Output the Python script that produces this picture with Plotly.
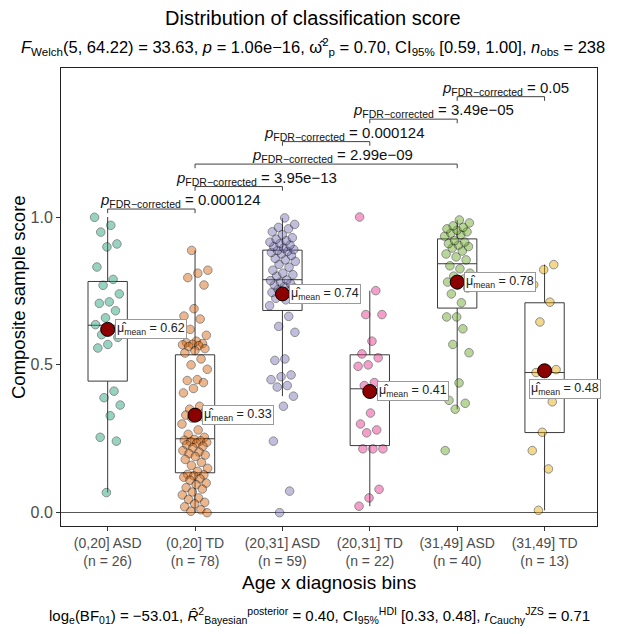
import plotly.graph_objects as go

# ---------------- data ----------------
categories = ["(0,20] ASD", "(0,20] TD", "(20,31] ASD", "(20,31] TD", "(31,49] ASD", "(31,49] TD"]
n_obs = [26, 78, 59, 22, 40, 13]

scores_asd_0_20 = [0.999, 0.972, 0.949, 0.909, 0.899, 0.831, 0.789, 0.769, 0.740, 0.713, 0.708, 0.683, 0.659,
                   0.636, 0.619, 0.602, 0.593, 0.569, 0.557, 0.411, 0.389, 0.364, 0.328, 0.255, 0.242, 0.068]
scores_td_0_20 = [0.887, 0.82, 0.81, 0.795, 0.77, 0.69, 0.665, 0.655, 0.62, 0.60, 0.58, 0.575, 0.572, 0.57, 0.568,
                  0.565, 0.562, 0.555, 0.548, 0.54,
                  0.52, 0.50, 0.485, 0.45, 0.447, 0.44, 0.42, 0.405, 0.36, 0.35, 0.345, 0.335, 0.33, 0.325, 0.32,
                  0.30, 0.28, 0.265, 0.255,
                  0.248, 0.245, 0.243, 0.24, 0.238, 0.235, 0.23, 0.225, 0.22, 0.21, 0.205, 0.2, 0.195, 0.19, 0.18,
                  0.17, 0.16, 0.15, 0.14,
                  0.13, 0.128, 0.125, 0.12, 0.115, 0.11, 0.1, 0.095, 0.085, 0.08, 0.07, 0.06, 0.05, 0.045, 0.035,
                  0.03, 0.02, 0.01, 0.005, 0.0]
scores_asd_20_31 = [0.664, 0.63, 0.61, 0.52, 0.515, 0.466, 0.46, 0.45, 0.43, 0.425, 0.394, 0.36, 0.242, 0.073, 0.0,
                    0.70, 0.72, 0.725, 0.735, 0.74, 0.745, 0.75, 0.755, 0.76, 0.765, 0.77, 0.775, 0.78, 0.785, 0.787,
                    0.80, 0.805, 0.81, 0.82, 0.83, 0.84, 0.85, 0.855, 0.86, 0.87, 0.875, 0.88, 0.884, 0.887,
                    0.89, 0.895, 0.90, 0.905, 0.91, 0.915, 0.92, 0.925, 0.93, 0.94, 0.95, 0.96, 0.965, 0.975, 0.997]
scores_td_20_31 = [1.0, 0.751, 0.67, 0.67, 0.58, 0.537, 0.524, 0.50, 0.495, 0.44, 0.43, 0.41, 0.337, 0.30, 0.28,
                   0.27, 0.216, 0.216, 0.216, 0.079, 0.05, 0.022]
scores_asd_31_49 = [0.662, 0.662, 0.622, 0.569, 0.541, 0.439, 0.38, 0.37, 0.35, 0.21,
                    0.71, 0.74, 0.76, 0.77, 0.78, 0.79, 0.80, 0.81, 0.825, 0.835,
                    0.855, 0.865, 0.875, 0.885, 0.895, 0.90, 0.905, 0.91, 0.915, 0.92,
                    0.935, 0.94, 0.945, 0.95, 0.955, 0.96, 0.965, 0.97, 0.98, 0.99]
scores_td_31_49 = [0.839, 0.822, 0.771, 0.712, 0.645, 0.484, 0.48, 0.474, 0.375, 0.272, 0.21, 0.148, 0.008]

group_scores = [scores_asd_0_20, scores_td_0_20, scores_asd_20_31, scores_td_20_31, scores_asd_31_49, scores_td_31_49]

box_q1 = [0.445, 0.135, 0.684, 0.227, 0.692, 0.271]
box_median = [0.634, 0.250, 0.788, 0.419, 0.842, 0.474]
box_q3 = [0.782, 0.534, 0.888, 0.534, 0.926, 0.710]
box_lower = [0.068, 0.0, 0.394, 0.022, 0.35, 0.008]
box_upper = [1.0, 0.887, 0.997, 0.751, 0.99, 0.839]

group_means = [0.62, 0.33, 0.74, 0.41, 0.78, 0.48]

pair_from = [0, 1, 1, 2, 3, 4]
pair_to = [1, 2, 4, 3, 4, 5]
pair_p = ["0.000124", "3.95e−13", "2.99e−09", "0.000124", "3.49e−05", "0.05"]

y_ticks = [0.0, 0.5, 1.0]

# ---------------- styling ----------------
palette = ["#1B9E77", "#D95F02", "#7570B3", "#E7298A", "#66A61E", "#E6AB02"]
bracket_text_shift_px = [29, 18, 6, 18, 20, 5]
FONT = "Liberation Sans"
GREY = "#4D4D4D"

fig = go.Figure()

# boxes
fig.add_trace(go.Box(
    x=list(range(len(categories))), q1=box_q1, median=box_median, q3=box_q3,
    lowerfence=box_lower, upperfence=box_upper,
    width=0.45, whiskerwidth=0, boxpoints=False,
    fillcolor="rgba(0,0,0,0)", line=dict(color="#3a3a3a", width=1),
    showlegend=False, hoverinfo="skip",
))

# jittered points (deterministic low-discrepancy jitter)
for g, vals in enumerate(group_scores):
    xs = [g + (((k * 0.6180339887 + 0.37 * g) % 1.0) - 0.5) * 0.30 for k in range(len(vals))]
    fig.add_trace(go.Scatter(
        x=xs, y=vals, mode="markers",
        marker=dict(size=8.5, color=palette[g], opacity=0.45, line=dict(color="#000000", width=1)),
        showlegend=False, hoverinfo="skip",
    ))

# means
fig.add_trace(go.Scatter(
    x=list(range(len(categories))), y=group_means, mode="markers",
    marker=dict(size=14, color="#8B0000", line=dict(color="#000000", width=1)),
    showlegend=False, hoverinfo="skip",
))

annotations = []
for g, m in enumerate(group_means):
    txt = "μ̂<sub>mean</sub> = %.2f" % m
    common = dict(x=g, y=m, xref="x", yref="y", text=txt, showarrow=False,
                  bgcolor="white", bordercolor="#9a9a9a", borderwidth=1, borderpad=1,
                  font=dict(family=FONT, size=12.5, color="#222"))
    if g == len(group_means) - 1:
        annotations.append(dict(common, xanchor="left", yanchor="top", xshift=-16, yshift=-8))
    else:
        annotations.append(dict(common, xanchor="left", yanchor="middle", xshift=7))

# pairwise comparison brackets
ymax = max(max(v) for v in group_scores)
shapes = []
for i, (a, b, p) in enumerate(zip(pair_from, pair_to, pair_p)):
    lvl = ymax + 0.027 + 0.076 * i
    tip = lvl - 0.014
    shapes.append(dict(type="path", xref="x", yref="y",
                       path=f"M {a} {tip} L {a} {lvl} L {b} {lvl} L {b} {tip}",
                       line=dict(color="#404040", width=1)))
    annotations.append(dict(x=(a + b) / 2, y=lvl, xref="x", yref="y", showarrow=False,
                            yanchor="bottom", xanchor="center", yshift=-3,
                            xshift=bracket_text_shift_px[i],
                            text=f"<i>p</i><sub>FDR−corrected</sub> = {p}",
                            font=dict(family=FONT, size=15, color="#111")))

# titles
annotations.append(dict(xref="paper", yref="paper", x=0.47, y=1, yshift=50, yanchor="middle",
                        text="Distribution of classification score", showarrow=False,
                        font=dict(family=FONT, size=20, color="#000")))
annotations.append(dict(xref="paper", yref="paper", x=0.47, y=1, yshift=21, yanchor="middle",
                        text="<i>F</i><sub>Welch</sub>(5, 64.22) = 33.63, <i>p</i> = 1.06e−16, "
                             "ω̂<sup>2</sup><sub>p</sub> = 0.70, CI<sub>95%</sub> [0.59, 1.00], "
                             "<i>n</i><sub>obs</sub> = 238",
                        showarrow=False, font=dict(family=FONT, size=16.5, color="#000")))
annotations.append(dict(xref="paper", yref="paper", x=0.5, y=0, yshift=-56, yanchor="middle",
                        text="Age x diagnosis bins", showarrow=False,
                        font=dict(family=FONT, size=19, color="#000")))
annotations.append(dict(xref="paper", yref="paper", x=0.99, y=0, yshift=-89, yanchor="middle",
                        xanchor="right",
                        text="log<sub>e</sub>(BF<sub>01</sub>) = −53.01, "
                             "<i>R̂</i><sup>2</sup><sub>Bayesian</sub><sup>posterior</sup> = 0.40, "
                             "CI<sub>95%</sub><sup>HDI</sup> [0.33, 0.48], "
                             "<i>r</i><sub>Cauchy</sub><sup>JZS</sup> = 0.71",
                        showarrow=False, font=dict(family=FONT, size=15, color="#000")))
annotations.append(dict(xref="paper", yref="paper", x=0, xshift=-43, y=0.5, textangle=-90,
                        xanchor="center", yanchor="middle",
                        text="Composite sample score", showarrow=False,
                        font=dict(family=FONT, size=18.5, color="#000")))

tick_text = [f"{c}<br>(n = {n})" for c, n in zip(categories, n_obs)]

# page body has an 8px margin: size and margins compensate so the panel lands where the reference has it
fig.update_layout(
    width=609, height=618,
    margin=dict(l=53, r=20, t=60, b=100),
    paper_bgcolor="white", plot_bgcolor="white",
    font=dict(family=FONT),
    shapes=shapes, annotations=annotations,
    xaxis=dict(range=[-0.534, 5.6], tickvals=list(range(len(categories))), ticktext=tick_text,
               showgrid=False, zeroline=False, showline=True, linecolor="#222", linewidth=1,
               mirror=True, ticks="outside", ticklen=4, tickcolor="#333",
               tickfont=dict(family=FONT, size=14, color=GREY)),
    yaxis=dict(range=[-0.045, 1.504], tickvals=y_ticks, ticktext=[f"{t:.1f}" for t in y_ticks],
               showgrid=False, zeroline=True, zerolinecolor="#555", zerolinewidth=1,
               showline=True, linecolor="#222", linewidth=1, mirror=True,
               ticks="outside", ticklen=4, tickcolor="#333",
               tickfont=dict(family=FONT, size=16, color=GREY)),
)

fig.write_html("out.html")
